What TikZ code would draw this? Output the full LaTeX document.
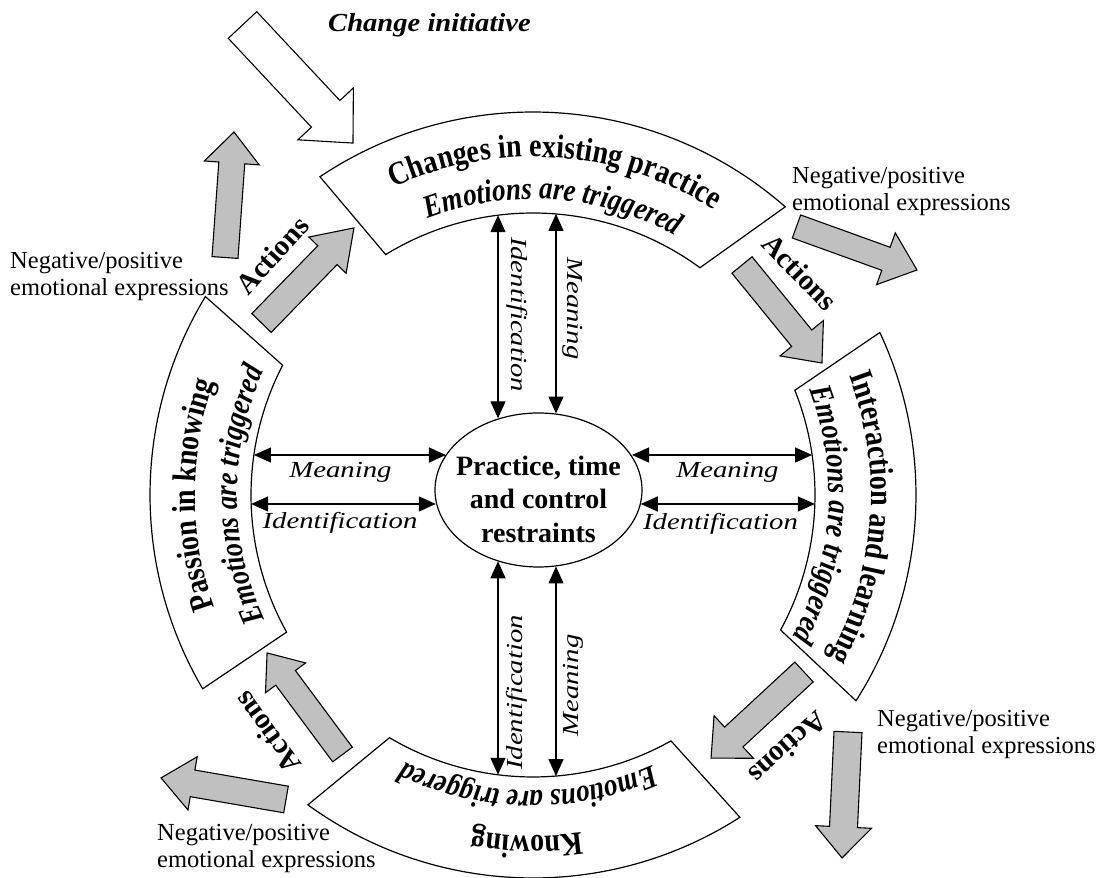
\documentclass[tikz,border=0pt]{standalone}
\usepackage{graphicx}
\usepackage{fontspec}
\setmainfont{Liberation Serif}
\usetikzlibrary{arrows.meta,shapes.geometric,decorations.text}
\definecolor{arrowgray}{HTML}{C0C0C0}
% block arrow: tail point, direction, length, shaft width, head width, head length, style
\newcommand{\blockarrow}[7]{%
  \begin{scope}[shift={#1},rotate=#2]
    \draw[#7] (0,{-#4/2}) -- ({#3-#6},{-#4/2}) -- ({#3-#6},{-#5/2}) -- (#3,0)
      -- ({#3-#6},{#5/2}) -- ({#3-#6},{#4/2}) -- (0,{#4/2}) -- cycle;
  \end{scope}}
\newcommand{\wide}[2]{\scalebox{#1}[1]{#2}}
\newcommand{\bandouter}{\fontsize{28}{30}\selectfont\bfseries}
\newcommand{\bandinner}{\fontsize{27}{30}\selectfont\bfseries\itshape}
\begin{document}
\begin{tikzpicture}[x=1pt,y=1pt,
  band/.style={draw,fill=white,line width=1.2pt},
  grayarrow/.style={draw,fill=arrowgray,line width=1.1pt},
  whitearrow/.style={draw,fill=white,line width=1.1pt},
  link/.style={line width=1.2pt,{Triangle[length=17pt,width=15pt]}-{Triangle[length=17pt,width=15pt]}},
  lbl/.style={font=\fontsize{23}{27}\selectfont\itshape,inner sep=0pt},
  note/.style={font=\fontsize{24.5}{27.5}\selectfont,align=left,inner sep=0pt,anchor=west},
  actlbl/.style={font=\fontsize{29}{30}\selectfont\bfseries,inner sep=0pt},
  bandtext/.style 2 args={decorate,decoration={text effects along path,text={#2},text align=center,
    text effects/.cd,text along path,characters={font=#1,yscale=1.18,inner sep=0pt}}}
]
\useasboundingbox (0,0) rectangle (1101,878);

% ---- the four curved bands around the centre ----
\begin{scope}[shift={(533,383)}]
  \draw[band] (123.8:383) arc[start angle=123.8,end angle=48.8,radius=383pt]
    -- (53.7:282) arc[start angle=53.7,end angle=121.5,radius=282pt] -- cycle;
  \draw[band] (25.1:383) arc[start angle=25.1,end angle=-32.5,radius=383pt]
    -- (-28.6:282) arc[start angle=-28.6,end angle=21.8,radius=282pt] -- cycle;
  \draw[band] (-57.3:383) arc[start angle=-57.3,end angle=-126,radius=383pt]
    -- (-120.6:282) arc[start angle=-120.6,end angle=-60.7,radius=282pt] -- cycle;
  \draw[band] (210.4:383) arc[start angle=210.4,end angle=148.8,radius=383pt]
    -- (152.6:282) arc[start angle=152.6,end angle=209.1,radius=282pt] -- cycle;

  % band texts, set along the arcs
  \path[bandtext={\bandouter}{Changes in existing practice}] (126:338) arc[start angle=126,end angle=46,radius=338pt];
  \path[bandtext={\bandinner}{Emotions are triggered}] (126:296) arc[start angle=126,end angle=46,radius=296pt];
  \path[bandtext={\bandouter}{Interaction and learning}] (36:338) arc[start angle=36,end angle=-44,radius=338pt];
  \path[bandtext={\bandinner}{Emotions are triggered}] (36:296) arc[start angle=36,end angle=-44,radius=296pt];
  \path[bandtext={\bandouter}{Knowing}] (-51:341) arc[start angle=-51,end angle=-131,radius=341pt];
  \path[bandtext={\bandinner}{Emotions are triggered}] (-51:296) arc[start angle=-51,end angle=-131,radius=296pt];
  \path[bandtext={\bandouter}{Passion in knowing}] (220:338) arc[start angle=220,end angle=140,radius=338pt];
  \path[bandtext={\bandinner}{Emotions are triggered}] (220:296) arc[start angle=220,end angle=140,radius=296pt];
\end{scope}

% ---- centre ----
\node[ellipse,draw,line width=1.2pt,minimum width=207pt,minimum height=154pt] (core) at (538.5,388) {};
\node[font=\fontsize{28}{33.5}\selectfont\bfseries,align=center,inner sep=0pt] (coretext) at (538.5,379)
  {Practice, time\\and control\\restraints};

% ends of the links on the inner edge of the bands
\coordinate (tI) at (498,662.8);
\coordinate (tM) at (556,664.1);
\coordinate (bI) at (498,103.2);
\coordinate (bM) at (556,101.9);
\coordinate (lM) at (253.9,423);
\coordinate (lI) at (251.1,374);
\coordinate (rM) at (812.1,423);
\coordinate (rI) at (814.9,374);

\draw[link] (tI) -- (tI |- core.119.7);
\draw[link] (tM) -- (tM |- core.77);
\draw[link] (bI) -- (bI |- core.240.3);
\draw[link] (bM) -- (bM |- core.283);
\draw[link] (lM) -- (lM -| core.159.2);
\draw[link] (lI) -- (lI -| core.187.8);
\draw[link] (rM) -- (rM -| core.20.8);
\draw[link] (rI) -- (rI -| core.352.2);

\node[lbl,rotate=-90,anchor=base] (tIlab) at (511,563.5) {\wide{1.25}{Identification}};
\node[lbl,rotate=-90,anchor=base] (tMlab) at (567,569.5) {\wide{1.25}{Meaning}};
\node[lbl,rotate=90,anchor=base] (bIlab) at (522,185.5) {\wide{1.25}{Identification}};
\node[lbl,rotate=90,anchor=base] (bMlab) at (578,192.5) {\wide{1.25}{Meaning}};
\node[lbl,anchor=base] (lMlab) at (340.5,400) {\wide{1.25}{Meaning}};
\node[lbl,anchor=base] (lIlab) at (340,349) {\wide{1.25}{Identification}};
\node[lbl,anchor=base] (rMlab) at (727.5,400) {\wide{1.25}{Meaning}};
\node[lbl,anchor=base] (rIlab) at (720.5,348) {\wide{1.25}{Identification}};

% ---- block arrows ----
\blockarrow{(242.5,853)}{-46.9}{161.7}{39}{76}{40}{whitearrow}
\blockarrow{(261.5,555)}{45.8}{132.6}{27}{52}{38}{grayarrow}
\blockarrow{(225,620.5)}{85.9}{125.8}{26}{55}{31}{grayarrow}
\blockarrow{(742,613)}{-50.8}{126.5}{26}{56}{32}{grayarrow}
\blockarrow{(796.5,651.5)}{-19.85}{128.1}{24.5}{55}{33}{grayarrow}
\blockarrow{(804,206)}{-137.2}{126.7}{27}{58}{31}{grayarrow}
\blockarrow{(848,146)}{-92.7}{126.1}{28}{56}{31}{grayarrow}
\blockarrow{(342.5,123.5)}{126.6}{126.5}{24.5}{50}{31}{grayarrow}
\blockarrow{(286,78.5)}{170.2}{126.8}{27}{54}{32}{grayarrow}

% ---- outer labels ----
\node[font=\fontsize{26}{30}\selectfont\bfseries\itshape,anchor=base west,inner sep=0pt] (init) at (328,846)
  {\wide{1.1}{Change initiative}};

\node[actlbl,rotate=48] (act1) at (272,623) {Actions};
\node[actlbl,rotate=-46] (act2) at (800,606) {Actions};
\node[actlbl,rotate=-138] (act3) at (788,130) {Actions};
\node[actlbl,rotate=126] (act4) at (267,145) {Actions};

\node[note] (np1) at (10,601.5) {Negative/positive\\emotional expressions};
\node[note] (np2) at (792,686.5) {Negative/positive\\emotional expressions};
\node[note] (np3) at (877,143.5) {Negative/positive\\emotional expressions};
\node[note] (np4) at (157,29.5) {Negative/positive\\emotional expressions};
\end{tikzpicture}
\end{document}
